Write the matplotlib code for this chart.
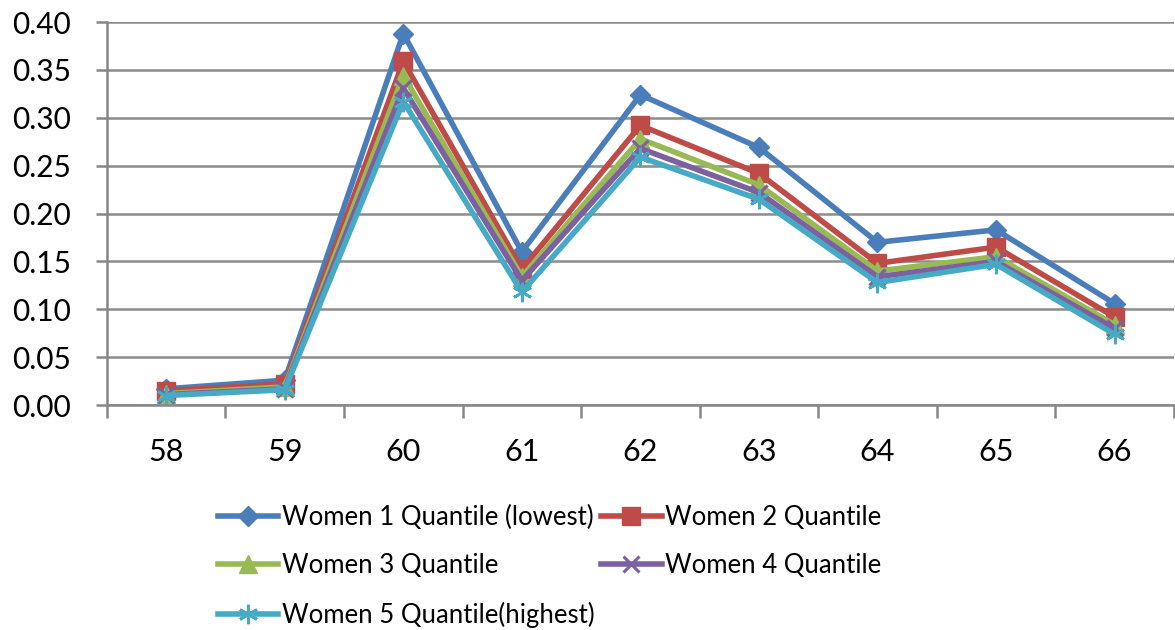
import matplotlib
matplotlib.use("Agg")
import matplotlib.pyplot as plt
from matplotlib.ticker import FormatStrFormatter

plt.rcParams['font.family'] = ['Lato', 'DejaVu Sans']

ages = ["58", "59", "60", "61", "62", "63", "64", "65", "66"]
labels = ["Women 1 Quantile (lowest)", "Women 2 Quantile", "Women 3 Quantile",
          "Women 4 Quantile", "Women 5 Quantile(highest)"]
q1 = [0.017, 0.026, 0.388, 0.160, 0.324, 0.269, 0.170, 0.183, 0.106]
q2 = [0.015, 0.022, 0.359, 0.142, 0.292, 0.242, 0.148, 0.165, 0.092]
q3 = [0.012, 0.019, 0.344, 0.134, 0.278, 0.230, 0.140, 0.155, 0.084]
q4 = [0.011, 0.017, 0.331, 0.130, 0.268, 0.222, 0.134, 0.150, 0.080]
q5 = [0.010, 0.016, 0.317, 0.118, 0.259, 0.215, 0.128, 0.147, 0.074]
series = [q1, q2, q3, q4, q5]

colors = ["#4a7ebb", "#be4b48", "#98b954", "#7d60a0", "#46aac5"]
markers = ["D", "s", "^", "x", "*"]
msizes = [10.5, 12.5, 12.5, 12, 14]

fig = plt.figure(figsize=(11.75, 6.3), dpi=100)
ax = fig.add_axes([0.091, 0.357, 0.908, 0.608])

x = list(range(len(ages)))
handles = []
for s, c, m, ms, lab in zip(series, colors, markers, msizes, labels):
    if m == "x":
        h, = ax.plot(x, s, color=c, lw=4.0, marker=m, ms=ms, mew=2.2, label=lab)
    elif m == "*":
        h, = ax.plot(x, s, color=c, lw=4.0, marker=(6, 2, 0), ms=ms, mew=2.0,
                     mec=c, label=lab)
    else:
        h, = ax.plot(x, s, color=c, lw=4.0, marker=m, ms=ms, mec=c, label=lab)
    handles.append(h)

ax.set_xlim(-0.5, len(ages) - 0.5)
ax.set_ylim(0, 0.40)
ax.set_yticks([i * 0.05 for i in range(9)])
ax.yaxis.set_major_formatter(FormatStrFormatter('%.2f'))
ax.set_xticks(x)
ax.set_xticklabels(ages)
ax.set_xticks([i - 0.5 for i in range(len(ages) + 1)], minor=True)
ax.tick_params(axis='x', which='major', length=0, pad=24, labelsize=22)
ax.tick_params(axis='x', which='minor', length=9, width=1.8, color='#878787')
ax.tick_params(axis='y', which='major', length=8, width=1.8, color='#878787',
               labelsize=21.5, pad=18)
ax.grid(axis='y', color='#8c8c8c', lw=1.8)
ax.set_axisbelow(True)
for side in ['top', 'right']:
    ax.spines[side].set_visible(False)
for side in ['left', 'bottom']:
    ax.spines[side].set_color('#878787')
    ax.spines[side].set_linewidth(1.8)

order = [0, 2, 4, 1, 3]
fig.legend([handles[i] for i in order], [labels[i] for i in order],
           ncol=2, loc='upper left', bbox_to_anchor=(0.1855, 0.199),
           frameon=False, fontsize=18.5, handlelength=2.35, handletextpad=0.15,
           columnspacing=0.25, labelspacing=0.91, borderaxespad=0, borderpad=0)

fig.savefig("out.png", dpi=100)
